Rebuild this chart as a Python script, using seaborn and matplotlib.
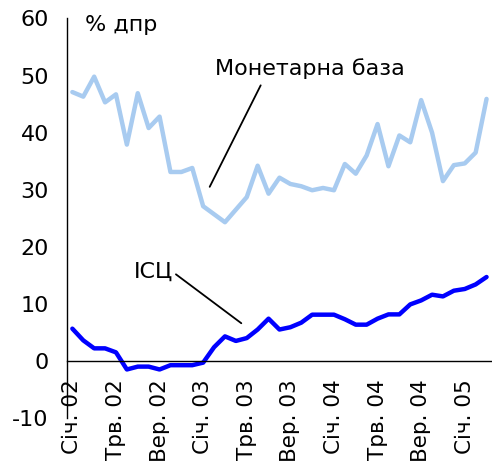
import numpy as np
import pandas as pd
import matplotlib
matplotlib.use("Agg")
import matplotlib.pyplot as plt
import seaborn as sns

# monthly data, Jan 2002 - Mar 2005 (% y/y)
money_base = [47.1, 46.3, 49.8, 45.3, 46.7, 37.9, 46.9, 40.8, 42.8, 33.1,
              33.1, 33.8, 27.1, 25.7, 24.3, 26.5, 28.7, 34.2, 29.3, 32.1,
              31.0, 30.6, 29.9, 30.3, 29.9, 34.5, 32.8, 36.0, 41.5, 34.1,
              39.5, 38.3, 45.7, 40.0, 31.5, 34.3, 34.6, 36.5, 45.9]
cpi = [5.65, 3.6, 2.2, 2.2, 1.5, -1.5, -1.0, -1.0, -1.5, -0.75,
       -0.75, -0.75, -0.3, 2.4, 4.3, 3.5, 4.0, 5.5, 7.4, 5.5,
       5.9, 6.7, 8.1, 8.1, 8.1, 7.3, 6.35, 6.35, 7.4, 8.15,
       8.15, 9.9, 10.6, 11.6, 11.3, 12.3, 12.6, 13.4, 14.7]
tick_labels = ["Січ. 02", "Трв. 02", "Вер. 02", "Січ. 03", "Трв. 03",
               "Вер. 03", "Січ. 04", "Трв. 04", "Вер. 04", "Січ. 05"]

months = np.arange(len(cpi))
df = pd.DataFrame({"month": months, "Монетарна база": money_base, "ІСЦ": cpi})

sns.set_style("white")
plt.rcParams['font.family'] = ['DejaVu Sans']
plt.rcParams['axes.unicode_minus'] = False
plt.rcParams['text.color'] = 'black'
plt.rcParams['xtick.color'] = 'black'
plt.rcParams['ytick.color'] = 'black'

fig = plt.figure(figsize=(4.92, 4.61), dpi=100)
ax = fig.add_axes([0.136, 0.0933, 0.864, 0.8667])

sns.lineplot(data=df, x="month", y="Монетарна база", color="#A8CBF0", linewidth=3.2, ax=ax)
sns.lineplot(data=df, x="month", y="ІСЦ", color="#0000FF", linewidth=3.2, ax=ax)

ax.set_xlim(-0.5, 38.5)
ax.set_ylim(-10, 60)
ax.set_yticks(range(-10, 61, 10))
ax.set_xticks(months[::4])
ax.set_xticklabels(tick_labels)
ax.set_xticks(np.arange(-0.5, 39, 1), minor=True)
ax.tick_params(axis="x", which="major", length=0, pad=13, labelrotation=90, labelsize=15.5)
ax.tick_params(axis="x", which="minor", length=6, width=1, direction="out", color="black")
ax.tick_params(axis="y", length=5, width=1, direction="out", color="black", labelsize=16, pad=8)
ax.set_xlabel("")
ax.set_ylabel("")

for s in ["top", "right"]:
    ax.spines[s].set_visible(False)
ax.spines["bottom"].set_position(("data", 0))
ax.spines["left"].set_color("black")
ax.spines["bottom"].set_color("black")
ax.spines["left"].set_linewidth(1)
ax.spines["bottom"].set_linewidth(1)

ax.text(1.2, 58.8, "% дпр", fontsize=16, va="center", ha="left")
ax.annotate("Монетарна база", xy=(12.6, 30.5), xytext=(13.1, 51.2),
            fontsize=16, ha="left", va="center",
            arrowprops=dict(arrowstyle="-", color="black", lw=1.3,
                            shrinkA=0, shrinkB=0, relpos=(0.24, -0.3)))
ax.annotate("ІСЦ", xy=(15.5, 6.6), xytext=(5.6, 15.6),
            fontsize=16, ha="left", va="center",
            arrowprops=dict(arrowstyle="-", color="black", lw=1.3,
                            shrinkA=0, shrinkB=0, relpos=(1, 0.5)))

fig.savefig("out.png", dpi=100)
